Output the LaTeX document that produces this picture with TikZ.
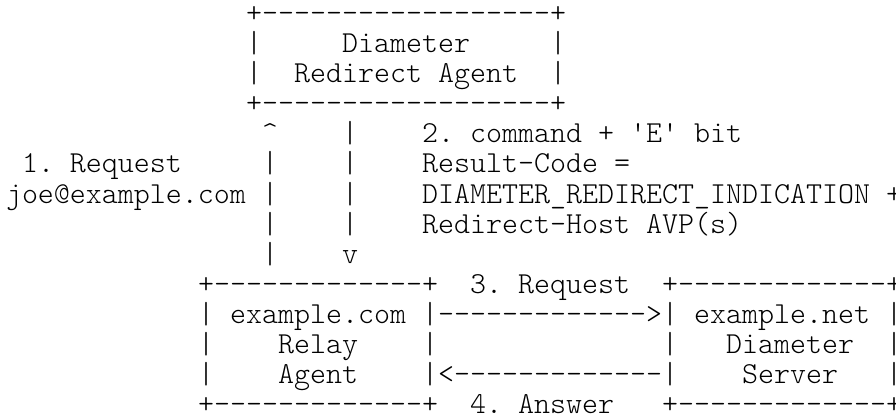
\documentclass[tikz,border=0pt]{standalone}
\usepackage{fontspec}
\newfontfamily\asciifont{lmmonolt10-regular.otf}[WordSpace={1,0,0},PunctuationSpace=WordSpace,HyphenChar=None]
\begin{document}
\begin{tikzpicture}[x=7.2pt,y=-13.5pt,
  txt/.style={anchor=base west,inner sep=0pt,outer sep=0pt,text=black,
    font=\asciifont\fontsize{13.714pt}{16pt}\selectfont\frenchspacing}]
\useasboundingbox[fill=white] (0pt,0pt) rectangle (403.2pt,-186.75pt);
\begin{scope}[shift={(2.7pt,-10.35pt)}]
% top box
\node[txt] (ratop) at (15,0) {+------------------+};
\node[txt] (raL1) at (15,1) {|};
\node[txt] (raT1) at (21,1) {Diameter};
\node[txt] (raR1) at (34,1) {|};
\node[txt] (raL2) at (15,2) {|};
\node[txt] (raT2) at (18,2) {Redirect Agent};
\node[txt] (raR2) at (34,2) {|};
\node[txt] (rabot) at (15,3) {+------------------+};
% vertical arrows and labels
\node[txt] (upA) at (16,4) {\textasciicircum};
\node[txt] (dnA) at (21,4) {|};
\node[txt] (lab2a) at (26,4) {2. command + 'E' bit};
\node[txt] (lab1a) at (1,5) {1. Request};
\node[txt] (upB) at (16,5) {|};
\node[txt] (dnB) at (21,5) {|};
\node[txt] (lab2b) at (26,5) {Result-Code =};
\node[txt] (lab1b) at (0,6) {joe@example.com};
\node[txt] (upC) at (16,6) {|};
\node[txt] (dnC) at (21,6) {|};
\node[txt] (lab2c) at (26,6) {DIAMETER\_REDIRECT\_INDICATION +};
\node[txt] (upD) at (16,7) {|};
\node[txt] (dnD) at (21,7) {|};
\node[txt] (lab2d) at (26,7) {Redirect-Host AVP(s)};
\node[txt] (upE) at (16,8) {|};
\node[txt] (dnE) at (21,8) {v};
% bottom boxes
\node[txt] (relaytop) at (12,9) {+-------------+};
\node[txt] (lab3) at (29,9) {3. Request};
\node[txt] (servtop) at (41,9) {+-------------+};
\node[txt] (relayL1) at (12,10) {|};
\node[txt] (relayT1) at (14,10) {example.com};
\node[txt] (reqarrow) at (26,10) {|------------->|};
\node[txt] (servT1) at (43,10) {example.net};
\node[txt] (servR1) at (55,10) {|};
\node[txt] (relayL2) at (12,11) {|};
\node[txt] (relayT2) at (17,11) {Relay};
\node[txt] (relayR2) at (26,11) {|};
\node[txt] (servL2) at (41,11) {|};
\node[txt] (servT2) at (45,11) {Diameter};
\node[txt] (servR2) at (55,11) {|};
\node[txt] (relayL3) at (12,12) {|};
\node[txt] (relayT3) at (17,12) {Agent};
\node[txt] (ansarrow) at (26,12) {|<-------------|};
\node[txt] (servT3) at (46,12) {Server};
\node[txt] (servR3) at (55,12) {|};
\node[txt] (relaybot) at (12,13) {+-------------+};
\node[txt] (lab4) at (29,13) {4. Answer};
\node[txt] (servbot) at (41,13) {+-------------+};
\end{scope}
\end{tikzpicture}
\end{document}
